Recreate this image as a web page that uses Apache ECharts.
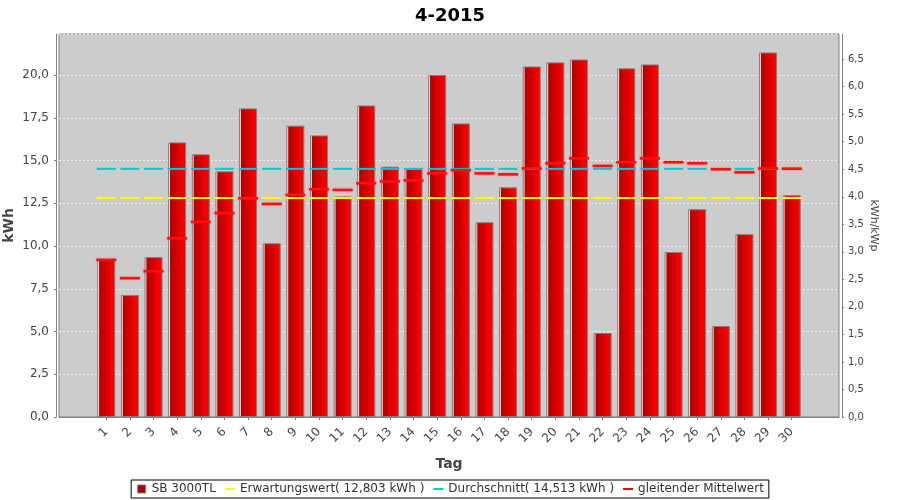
<!DOCTYPE html>
<html>
<head>
<meta charset="utf-8">
<script src="https://cdn.jsdelivr.net/npm/echarts@6/dist/echarts.min.js"></script>
<style>
  html, body { margin: 0; padding: 0; background: #ffffff; }
  #chart { width: 900px; height: 500px; }
</style>
</head>
<body>
<div id="chart"></div>
<script>
// ---- data ----
const titleText = '4-2015';
const days = ['1','2','3','4','5','6','7','8','9','10','11','12','13','14','15','16','17','18','19','20','21','22','23','24','25','26','27','28','29','30'];
const yieldKWh = [9.19, 7.13, 9.35, 16.06, 15.36, 14.37, 18.05, 10.16, 17.04, 16.47,
                  12.90, 18.22, 14.64, 14.52, 20.00, 17.17, 11.39, 13.43, 20.50, 20.74,
                  20.91, 4.91, 20.39, 20.62, 9.65, 12.15, 5.32, 10.69, 21.32, 12.97];
const movingAvg = [9.19, 8.12, 8.53, 10.45, 11.41, 11.93, 12.79, 12.46, 12.99, 13.32,
                   13.28, 13.67, 13.78, 13.84, 14.25, 14.43, 14.25, 14.19, 14.54, 14.84,
                   15.13, 14.68, 14.90, 15.13, 14.90, 14.84, 14.49, 14.31, 14.54, 14.52];
const expectedValue = 12.803;
const averageValue = 14.513;
const seriesNames = ['SB 3000TL', 'Erwartungswert( 12,803 kWh )', 'Durchschnitt( 14,513 kWh )', 'gleitender Mittelwert'];
const leftAxisMax = 22.4;
const kWp = 3.22;

// ---- build padded category table (two empty slots each side) ----
const padL = [' ', '  '];
const padR = ['   ', '    '];
const cats = padL.concat(days, padR);
const pad = (arr) => ['-', '-'].concat(arr, ['-', '-']);
const expectedSeries = pad(days.map(() => expectedValue));
const averageSeries = pad(days.map(() => averageValue));

const comma = (v) => v.toFixed(1).replace('.', ',');
const FONT = 'DejaVu Sans';

const barGradient = {
  type: 'linear', x: 0, y: 0, x2: 1, y2: 0,
  colorStops: [
    { offset: 0, color: '#d05050' },
    { offset: 0.07, color: '#ffffff' },
    { offset: 0.13, color: '#b80000' },
    { offset: 0.25, color: '#bc0000' },
    { offset: 0.9, color: '#ff0000' },
    { offset: 1, color: '#ff0000' }
  ]
};

const lineIcon = 'path://M0,0 M0,4L10,4L10,6L0,6Z M10,10';
const boxIcon = 'path://M0,0 M1,1L9,1L9,9L1,9Z M10,10';

const chart = echarts.init(document.getElementById('chart'), null, { renderer: 'canvas' });
chart.setOption({
  animation: false,
  backgroundColor: '#ffffff',
  textStyle: { fontFamily: FONT },
  title: {
    text: titleText,
    left: 'center',
    top: 2,
    textStyle: { fontFamily: FONT, fontSize: 18, fontWeight: 'bold', color: '#000000' }
  },
  grid: {
    left: 59, top: 34, width: 780, height: 383,
    containLabel: false,
    outerBoundsMode: 'none',
    show: true,
    backgroundColor: '#cccccc',
    borderColor: '#808080',
    borderWidth: 1
  },
  legend: {
    bottom: 2,
    left: 'center',
    orient: 'horizontal',
    borderColor: '#000000',
    borderWidth: 1,
    padding: [3, 5],
    itemGap: 9,
    itemWidth: 10,
    itemHeight: 10,
    textStyle: { fontFamily: FONT, fontSize: 12, color: '#333333' },
    data: [
      { name: seriesNames[0], icon: boxIcon, itemStyle: { color: '#b00000', borderColor: '#808080', borderWidth: 1 } },
      { name: seriesNames[1], icon: lineIcon, itemStyle: { color: '#ffff00' } },
      { name: seriesNames[2], icon: lineIcon, itemStyle: { color: '#00cccc' } },
      { name: seriesNames[3], icon: lineIcon, itemStyle: { color: '#ff0000' } }
    ]
  },
  xAxis: {
    type: 'category',
    data: cats,
    boundaryGap: false,
    offset: 4,
    name: 'Tag',
    nameLocation: 'middle',
    nameGap: 36,
    nameMoveOverlap: false,
    nameTextStyle: { fontFamily: FONT, fontSize: 14, fontWeight: 'bold', color: '#444444' },
    axisLine: { show: true, lineStyle: { color: '#808080', width: 1 } },
    axisTick: {
      show: true, length: 3, inside: false,
      interval: (idx, val) => String(val).trim() !== '',
      lineStyle: { color: '#808080' }
    },
    axisLabel: {
      interval: 0, rotate: 45, margin: 9,
      fontFamily: FONT, fontSize: 12, color: '#444444'
    },
    splitLine: { show: false }
  },
  yAxis: [
    {
      type: 'value',
      position: 'left',
      min: 0, max: leftAxisMax, interval: 2.5,
      offset: 3,
      name: 'kWh',
      nameLocation: 'middle',
      nameRotate: 90,
      nameGap: 40,
      nameMoveOverlap: false,
      nameTextStyle: { fontFamily: FONT, fontSize: 14, fontWeight: 'bold', color: '#444444' },
      axisLine: { show: true, lineStyle: { color: '#808080' } },
      axisTick: { show: true, length: 2, lineStyle: { color: '#808080' } },
      axisLabel: {
        showMaxLabel: false, margin: 7,
        fontFamily: FONT, fontSize: 12, color: '#444444',
        formatter: (v) => comma(v)
      },
      splitLine: { show: true, lineStyle: { color: '#eeeeee', type: [2, 2], width: 1 } }
    },
    {
      type: 'value',
      position: 'right',
      min: 0, max: leftAxisMax / kWp, interval: 0.5,
      offset: 3,
      name: 'kWh/kWp',
      nameLocation: 'middle',
      nameRotate: -90,
      nameGap: 26,
      nameMoveOverlap: false,
      nameTextStyle: { fontFamily: FONT, fontSize: 11, color: '#444444' },
      axisLine: { show: true, lineStyle: { color: '#808080' } },
      axisTick: { show: true, length: 2, lineStyle: { color: '#808080' } },
      axisLabel: {
        showMaxLabel: false, margin: 6,
        fontFamily: FONT, fontSize: 10, color: '#444444',
        formatter: (v) => comma(v)
      },
      splitLine: { show: false }
    }
  ],
  series: [
    {
      name: seriesNames[0],
      type: 'bar',
      yAxisIndex: 0,
      barWidth: 18,
      data: pad(yieldKWh),
      itemStyle: { color: barGradient, borderColor: '#808080', borderWidth: 1 },
      emphasis: { disabled: true }
    },
    {
      name: seriesNames[1],
      type: 'scatter',
      yAxisIndex: 0,
      symbol: 'rect',
      symbolSize: [19, 2],
      data: expectedSeries,
      itemStyle: { color: '#ffff00', opacity: 1 },
      emphasis: { disabled: true }
    },
    {
      name: seriesNames[2],
      type: 'scatter',
      yAxisIndex: 0,
      symbol: 'rect',
      symbolSize: [19, 2],
      data: averageSeries,
      itemStyle: { color: '#00cccc', opacity: 1 },
      emphasis: { disabled: true }
    },
    {
      name: seriesNames[3],
      type: 'scatter',
      yAxisIndex: 0,
      symbol: 'rect',
      symbolSize: [20, 2.5],
      data: pad(movingAvg),
      itemStyle: { color: '#ff1010', opacity: 1, shadowBlur: 2, shadowColor: 'rgba(255,0,0,0.5)' },
      emphasis: { disabled: true }
    }
  ]
});
</script>
</body>
</html>
